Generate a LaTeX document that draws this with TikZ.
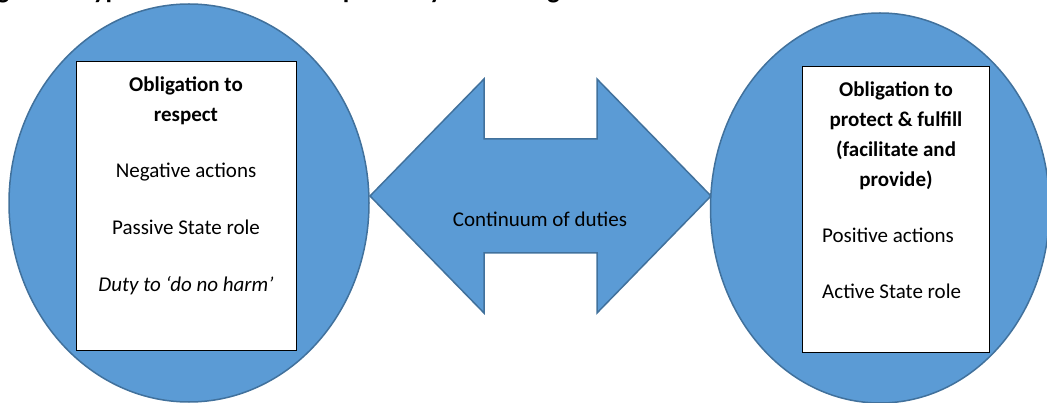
\documentclass[tikz,border=0pt]{standalone}
\usepackage{fontspec}
\setmainfont{Carlito}
\usetikzlibrary{shapes.geometric,shadows}
\definecolor{fillblue}{HTML}{5B9BD5}
\definecolor{edgeblue}{HTML}{41719C}
\begin{document}
\begin{tikzpicture}[x=1pt,y=-1pt,
  blob/.style={ellipse,fill=fillblue,draw=edgeblue,line width=1.5pt,inner sep=0pt},
  arrowshape/.style={fill=fillblue,draw=edgeblue,line width=1.5pt,line join=miter},
  panel/.style={rectangle,fill=white,draw=black,line width=0.9pt,inner sep=0pt,
    drop shadow={shadow xshift=1.2pt,shadow yshift=-1.2pt,opacity=0.45,fill=black}},
  body/.style={font=\fontsize{21}{25}\selectfont,inner sep=0pt,anchor=base},
  head/.style={font=\fontsize{21}{25}\selectfont\bfseries,inner sep=0pt,anchor=base},
  lefttext/.style={font=\fontsize{21}{25}\selectfont,inner sep=0pt,anchor=base west}]
\useasboundingbox (0,0) rectangle (1047,403);
\clip (0,0) rectangle (1047,403);

% caption, cut by the top edge
\node[anchor=base west,inner sep=0pt,font=\fontsize{26.5}{30}\selectfont\bfseries] (title) at (-22,-1.5)
  {Figure 3: Types of State duties imposed by human rights treaties};

% double arrow
\draw[arrowshape] (370,196) -- (484,79) -- (484,139) -- (597,139) -- (597,79) -- (711,196)
  -- (597,313) -- (597,253) -- (484,253) -- (484,313) -- cycle;
\node[body] (cont) at (540,227) {Continuum of duties};

% ellipses
\node[blob,minimum width=360pt,minimum height=398pt] (lcirc) at (189,203) {};
\node[blob,minimum width=339pt,minimum height=390pt] (rcirc) at (880,208) {};

% boxes
\node[panel,minimum width=220pt,minimum height=289pt] (lbox) at (186,205.5) {};
\node[panel,minimum width=187pt,minimum height=286pt] (rbox) at (895.5,209) {};

% left texts
\node[head] (l1) at (186,92) {Obligation to};
\node[head] (l2) at (186,122) {respect};
\node[body] (l3) at (186,178) {Negative actions};
\node[body] (l4) at (186,235) {Passive State role};
\node[body,font=\fontsize{21}{25}\selectfont\itshape] (l5) at (186,292) {Duty to ‘do no harm’};

% right texts
\node[head] (r1) at (896,97) {Obligation to};
\node[head] (r2) at (896,127) {protect \& fulfill};
\node[head] (r3) at (896,157) {(facilitate and};
\node[head] (r4) at (896,187) {provide)};
\node[lefttext] (r5) at (822,243) {Positive actions};
\node[lefttext] (r6) at (822,299) {Active State role};
\end{tikzpicture}
\end{document}
